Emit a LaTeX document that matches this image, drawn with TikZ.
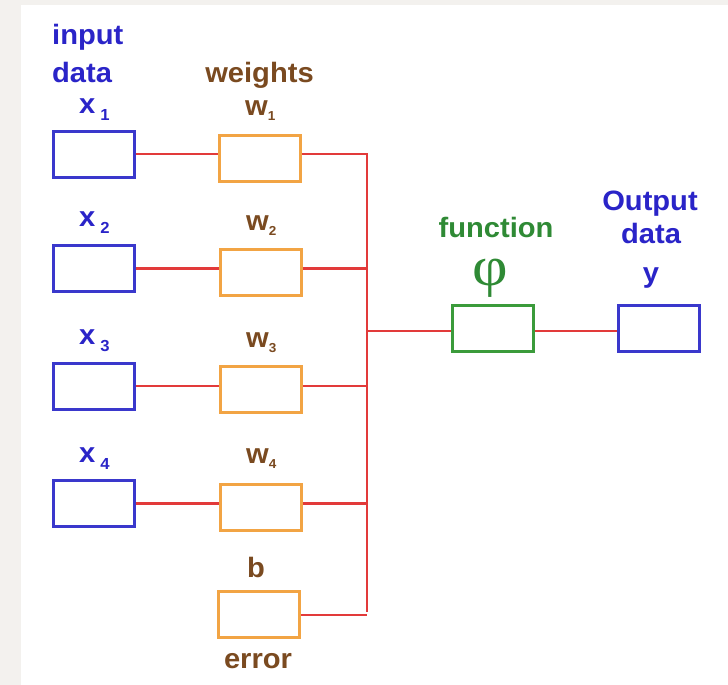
\documentclass[tikz,border=0pt]{standalone}
\usepackage{fontspec}
\newfontfamily\labelfont{Liberation Sans}[FakeStretch=1.04]
\newfontfamily\phifont{Liberation Serif}
\definecolor{inblue}{HTML}{2A24C8}
\definecolor{boxblue}{HTML}{3A38CC}
\definecolor{wbrown}{HTML}{7A4A20}
\definecolor{wbox}{HTML}{F2A444}
\definecolor{fgreen}{HTML}{2F8A35}
\definecolor{fbox}{HTML}{3B9B3B}
\definecolor{wire}{HTML}{E23A3A}
\definecolor{frame}{HTML}{F3F1EE}
\tikzset{
  cell/.style={draw, rectangle, line width=3pt, minimum width=81pt, minimum height=46pt, inner sep=0pt, fill=white},
  inbox/.style={cell, draw=boxblue},
  wtbox/.style={cell, draw=wbox},
  fnbox/.style={cell, draw=fbox},
  link/.style={draw=wire, line width=2.8pt},
  lbl/.style={inner sep=0pt, anchor=base, font=\labelfont\bfseries\fontsize{28}{32}\selectfont},
}
\newcommand{\subx}[1]{\hspace{5pt}\raisebox{-7pt}{\fontsize{16}{16}\selectfont #1}}
\newcommand{\subw}[1]{\hspace{0pt}\raisebox{-5pt}{\fontsize{13}{13}\selectfont #1}}
\begin{document}
\begin{tikzpicture}[x=1pt,y=-1pt]
  % page frame
  \fill[frame] (0,0) rectangle (728,685);
  \fill[white] (21,5) rectangle (728,685);
  \useasboundingbox (0,0) rectangle (728,685);

  % input boxes
  \node[inbox] (x1) at (93.5,154) {};
  \node[inbox] (x2) at (94,268.5) {};
  \node[inbox] (x3) at (94,386) {};
  \node[inbox] (x4) at (93.5,503.5) {};
  % weight boxes and bias
  \node[wtbox] (w1) at (259.5,158) {};
  \node[wtbox] (w2) at (260.5,272) {};
  \node[wtbox] (w3) at (260.5,389.5) {};
  \node[wtbox] (w4) at (261,507) {};
  \node[wtbox] (b)  at (259,614) {};
  % function and output
  \node[fnbox] (f) at (492.5,328.5) {};
  \node[inbox] (y) at (658.5,328.5) {};

  % summing bus
  \coordinate (bustop) at (367,152);
  \coordinate (busbot) at (367,613);
  \coordinate (busmid) at (367,331);

  % wires
  \foreach \i in {1,2,3,4}{
    \draw[link] (x\i.east) -- (x\i.east -| w\i.west);
    \draw[link] (x\i.east -| w\i.east) -- (x\i.east -| bustop);
  }
  \draw[link] ([yshift=-1pt]b.east) -- ([yshift=-1pt]b.east -| busbot);
  \draw[link] ([yshift=-1.4pt]bustop) -- ([yshift=1.4pt]busbot);
  \draw[link] (busmid) -- (busmid -| f.west);
  \draw[link] (busmid -| f.east) -- (busmid -| y.west);

  % input labels
  \node[lbl, anchor=base west, text=inblue] (tin) at (52,45) {input};
  \node[lbl, anchor=base west, text=inblue] (tdata) at (52,82) {data};
  \node[lbl, anchor=base west, text=inblue] (lx1) at (79,113) {x\subx{1}};
  \node[lbl, anchor=base west, text=inblue] (lx2) at (79,226) {x\subx{2}};
  \node[lbl, anchor=base west, text=inblue] (lx3) at (79,344) {x\subx{3}};
  \node[lbl, anchor=base west, text=inblue] (lx4) at (79,462) {x\subx{4}};

  % weight labels
  \node[lbl, text=wbrown] (tw) at (259.5,82) {weights};
  \node[lbl, anchor=base west, text=wbrown] (lw1) at (245,115) {w\subw{1}};
  \node[lbl, anchor=base west, text=wbrown] (lw2) at (246,230) {w\subw{2}};
  \node[lbl, anchor=base west, text=wbrown] (lw3) at (246,347) {w\subw{3}};
  \node[lbl, anchor=base west, text=wbrown] (lw4) at (246,463) {w\subw{4}};
  \node[lbl, text=wbrown] (lb) at (256,577) {b};
  \node[lbl, text=wbrown] (lerr) at (258,668) {error};

  % function labels
  \node[lbl, text=fgreen] (tf) at (496,237) {function};
  \node[inner sep=0pt, anchor=base, text=fgreen, font=\phifont\fontsize{56}{56}\selectfont] (phi) at (490,285) {\scalebox{1.1}[1]{φ}};

  % output labels
  \node[lbl, text=inblue] (tout) at (650,210) {Output};
  \node[lbl, text=inblue] (tod) at (651,243) {data};
  \node[lbl, text=inblue] (ty) at (651,282) {y};
\end{tikzpicture}
\end{document}
